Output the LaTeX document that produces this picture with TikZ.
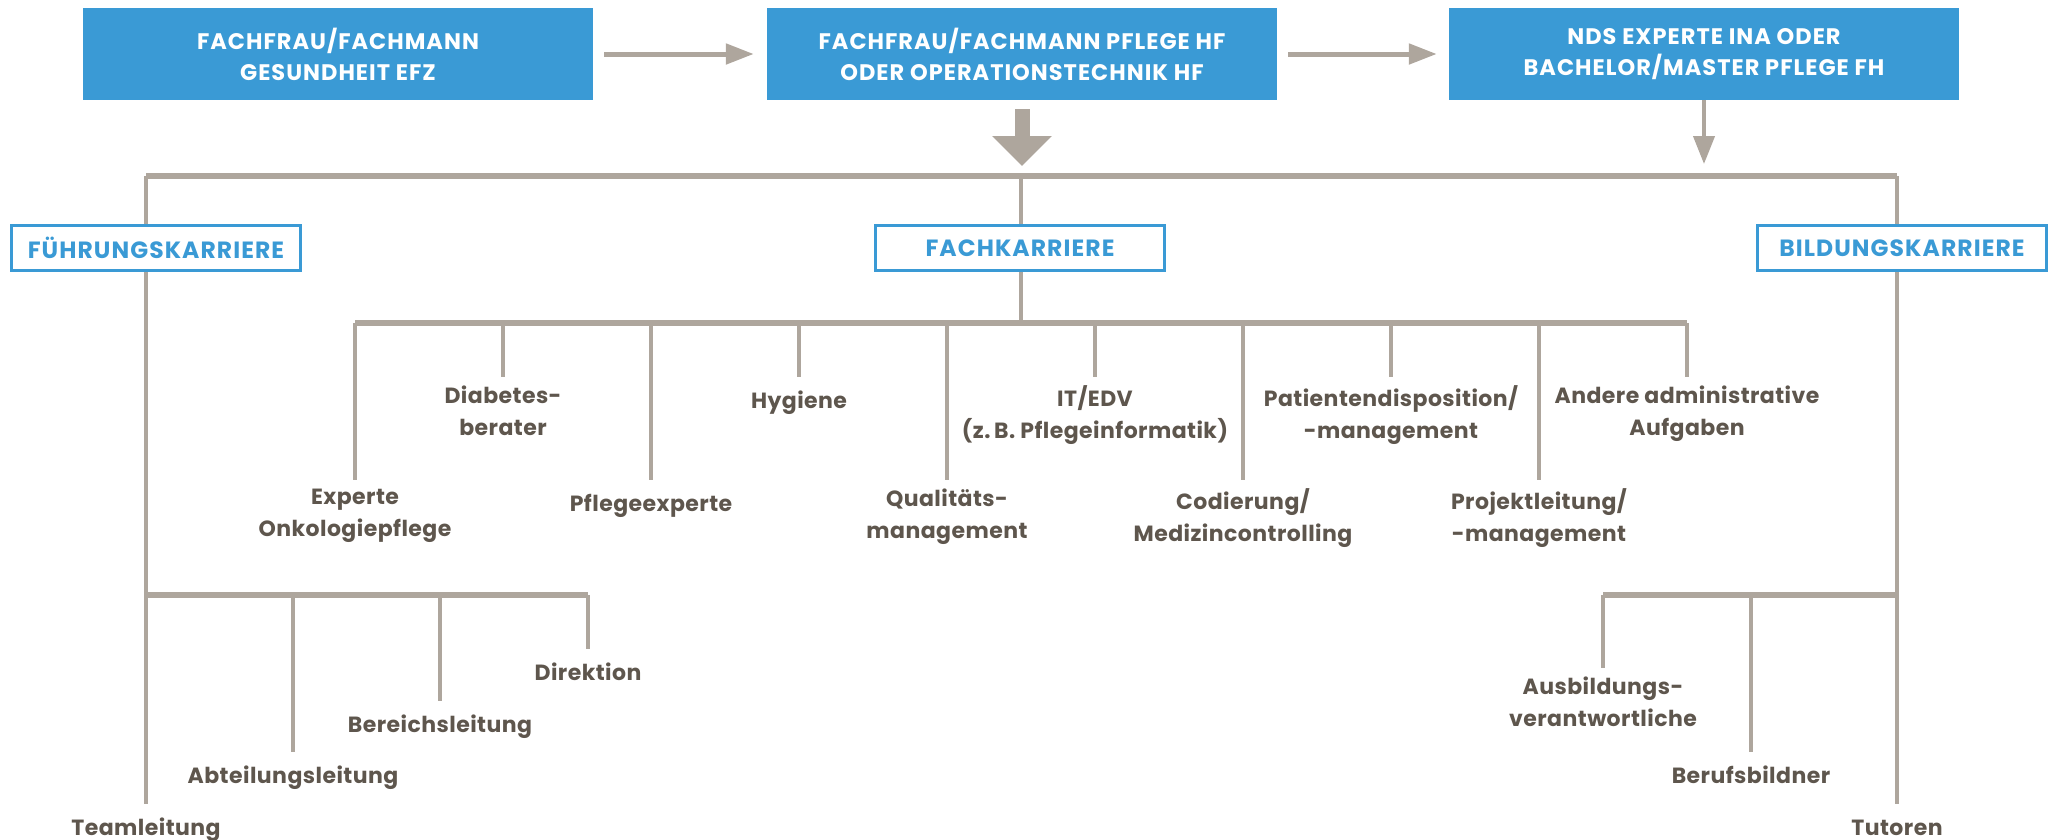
\documentclass[tikz,border=0pt]{standalone}
\usepackage{fontspec}
\setmainfont{Poppins}
\newfontfamily\capsfont{Poppins}[LetterSpace=4.5]
\newfontfamily\lblfont{Poppins}[LetterSpace=2]
\usetikzlibrary{arrows.meta}
\definecolor{blu}{HTML}{3A9AD5}
\definecolor{gry}{HTML}{AEA69D}
\definecolor{txt}{HTML}{5E564D}
\begin{document}
\begin{tikzpicture}[x=1pt,y=-1pt,
  topbox/.style={fill=blu, text=white, font=\capsfont\bfseries\fontsize{22.5}{31}\selectfont, minimum width=510pt, minimum height=92pt, align=center, inner sep=0pt},
  catbox/.style={draw=blu, line width=3pt, fill=white, text=blu, font=\capsfont\bfseries\fontsize{23.5}{30}\selectfont, minimum width=289pt, minimum height=45pt, inner sep=0pt},
  lbl/.style={text=txt, font=\lblfont\bfseries\fontsize{22}{32}\selectfont, align=center, inner xsep=0pt, inner ysep=8.5pt, anchor=north, execute at begin node=\strut},
  bar/.style={draw=gry, line width=5.5pt},
  drop/.style={draw=gry, line width=4pt},
  arr/.style={draw=gry, line width=5pt, -{Triangle[length=28pt,width=20pt]}}
]
\useasboundingbox (0,0) rectangle (2061,839);

% top boxes
\node[topbox] (b1) at (338,54) {FACHFRAU/FACHMANN\\GESUNDHEIT EFZ};
\node[topbox] (b2) at (1022,54) {FACHFRAU/FACHMANN PFLEGE HF\\ODER OPERATIONSTECHNIK HF};
\node[topbox] (b3) at (1704,54) {NDS EXPERTE INA ODER\\BACHELOR/MASTER PFLEGE FH};

\draw[arr] ([xshift=11pt]b1.east) -- ([xshift=-13pt]b2.west);
\draw[arr] ([xshift=11pt]b2.east) -- ([xshift=-12pt]b3.west);

\coordinate (bigtip) at (1022,166);
\coordinate (thintip) at (1704,164);
\draw[draw=gry, line width=15pt, -{Triangle[length=30pt,width=58pt]}] ([yshift=-9pt]b2.south) -- (bigtip);
\draw[draw=gry, line width=4pt, -{Triangle[length=28pt,width=21pt]}] (b3.south) -- (thintip);

% category boxes
\node[catbox] (fk) at (156,248) {FÜHRUNGSKARRIERE};
\node[catbox] (fa) at (1020,248) {FACHKARRIERE};
\node[catbox] (bk) at (1902,248) {BILDUNGSKARRIERE};

\coordinate (mL) at (146,176);
\coordinate (mM) at (1021,176);
\coordinate (mR) at (1897,176);
\draw[bar] (mL) -- (mR);
\draw[drop] (mL) -- (mL |- fk.north);
\draw[drop] (mM) -- (mM |- fa.north);
\draw[drop] (mR) -- (mR |- bk.north);

% Fachkarriere
\coordinate (fbar) at (1021,323);
\draw[drop] (fbar |- fa.south) -- (fbar);
\node[lbl] (l0) at (355,480) {Experte\\Onkologiepflege};
\node[lbl] (l1) at (503,377) {Diabetes-\\berater};
\node[lbl] (l2) at (651,480) {Pflegeexperte};
\node[lbl] (l3) at (799,377) {Hygiene};
\node[lbl] (l4) at (947,480) {Qualitäts-\\management};
\node[lbl] (l5) at (1095,377) {IT/EDV\\(z.\,B. Pflegeinformatik)};
\node[lbl] (l6) at (1243,480) {Codierung/\\Medizincontrolling};
\node[lbl] (l7) at (1391,377) {Patientendisposition/\\-management};
\node[lbl] (l8) at (1539,480) {Projektleitung/\\-management};
\node[lbl] (l9) at (1687,377) {Andere administrative\\Aufgaben};
\draw[bar] (l0.north |- fbar) -- (l9.north |- fbar);
\foreach \n in {l0,l1,l2,l3,l4,l5,l6,l7,l8,l9}
  \draw[drop] (\n.north |- fbar) -- (\n.north);

% Fuehrungskarriere
\coordinate (fb) at (146,595);
\node[lbl] (team) at (146,804) {Teamleitung};
\node[lbl] (abt) at (293,752) {Abteilungsleitung};
\node[lbl] (ber) at (440,701) {Bereichsleitung};
\node[lbl] (dir) at (588,649) {Direktion};
\draw[drop] (mL |- fk.south) -- (team.north);
\draw[bar] (fb) -- (dir.north |- fb);
\foreach \n in {abt,ber,dir}
  \draw[drop] (\n.north |- fb) -- (\n.north);

% Bildungskarriere
\coordinate (bb) at (1897,595);
\node[lbl] (tut) at (1897,804) {Tutoren};
\node[lbl] (bbi) at (1751,752) {Berufsbildner};
\node[lbl] (aus) at (1603,668) {Ausbildungs-\\verantwortliche};
\draw[drop] (mR |- bk.south) -- (tut.north);
\draw[bar] (aus.north |- bb) -- (bb);
\foreach \n in {aus,bbi}
  \draw[drop] (\n.north |- bb) -- (\n.north);
\end{tikzpicture}
\end{document}
